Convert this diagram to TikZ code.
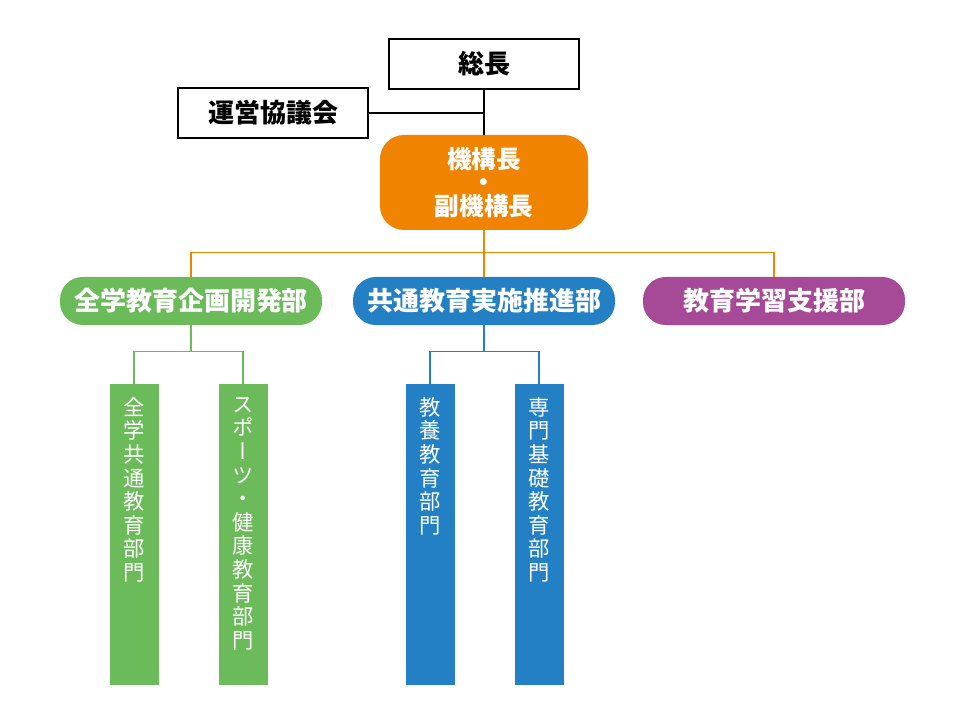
\documentclass[tikz,border=0pt]{standalone}
\usepackage{fontspec}
\setmainfont{Noto Sans CJK JP}
\newfontfamily\vertjp[RawFeature=+vert]{Noto Sans CJK JP}
\usetikzlibrary{positioning}
\definecolor{kikoorange}{HTML}{F08300}
\definecolor{zengreen}{HTML}{6CBB5A}
\definecolor{kyoblue}{HTML}{2380C4}
\definecolor{shienpurple}{HTML}{A64A97}

\begin{document}
\begin{tikzpicture}[x=0.75pt, y=-0.75pt,
  topbox/.style={rectangle, draw=black, line width=1.2pt, fill=white, minimum width=142.5pt, minimum height=37.5pt, font=\fontsize{19.5}{21}\selectfont\bfseries},
  headbox/.style={rectangle, fill=kikoorange, rounded corners=18pt, minimum width=156pt, minimum height=71.25pt, align=center, text=white, font=\fontsize{18.5}{17.5}\selectfont\bfseries},
  dept/.style={rectangle, rounded corners=17pt, minimum width=196.5pt, minimum height=36pt, text=white, font=\fontsize{19.5}{21}\selectfont\bfseries},
  bar/.style={rectangle, minimum width=36.75pt, minimum height=225.75pt, inner sep=0pt},
  vtext/.style={align=center, text=white, inner sep=0pt, font=\vertjp\fontsize{16}{17.7}\selectfont},
  link/.style={line width=1.1pt}
]
  \useasboundingbox (0,0) rectangle (960,720);

  % top of the chart
  \node[topbox] (socho) at (484,64) {総長};
  \node[topbox] (unei) at (273,113) {運営協議会};
  \node[headbox] (kiko) at (484,182.5) {機構長\\・\\副機構長};

  \draw[link] (socho.south) -- (kiko.north);
  \draw[link] (unei.east) -- (unei.east -| socho.south);

  % departments
  \node[dept, fill=zengreen] (zenki) at (191,301) {全学教育企画開発部};
  \node[dept, fill=kyoblue] (kyotsu) at (484,301) {共通教育実施推進部};
  \node[dept, fill=shienpurple] (shien) at (774,301) {教育学習支援部};

  \draw[link, kikoorange] (kiko.south) -- ++(0,22) -| (zenki.north);
  \draw[link, kikoorange] (kiko.south) ++(0,22) -| (shien.north);
  \draw[link, kikoorange] (kiko.south) -- (kyotsu.north);

  % sections
  \node[bar, fill=zengreen, label={[vtext, anchor=north, yshift=-10pt]north:{全\\学\\共\\通\\教\\育\\部\\門}}] (zenkyo) at (134,534.5) {};
  \node[bar, fill=zengreen, label={[vtext, anchor=north, yshift=-10pt]north:{ス\\ポ\\ー\\ツ\\・\\健\\康\\教\\育\\部\\門}}] (sports) at (243,534.5) {};
  \node[bar, fill=kyoblue, label={[vtext, anchor=north, yshift=-10pt]north:{教\\養\\教\\育\\部\\門}}] (kyoyo) at (430,534.5) {};
  \node[bar, fill=kyoblue, label={[vtext, anchor=north, yshift=-10pt]north:{専\\門\\基\\礎\\教\\育\\部\\門}}] (senmon) at (539,534.5) {};

  \draw[link, zengreen] (zenki.south) -- ++(0,27);
  \draw[link, zengreen] (zenkyo.north) -- ++(0,-32) -| (sports.north);
  \draw[link, kyoblue] (kyotsu.south) -- ++(0,27);
  \draw[link, kyoblue] (kyoyo.north) -- ++(0,-32) -| (senmon.north);
\end{tikzpicture}
\end{document}
